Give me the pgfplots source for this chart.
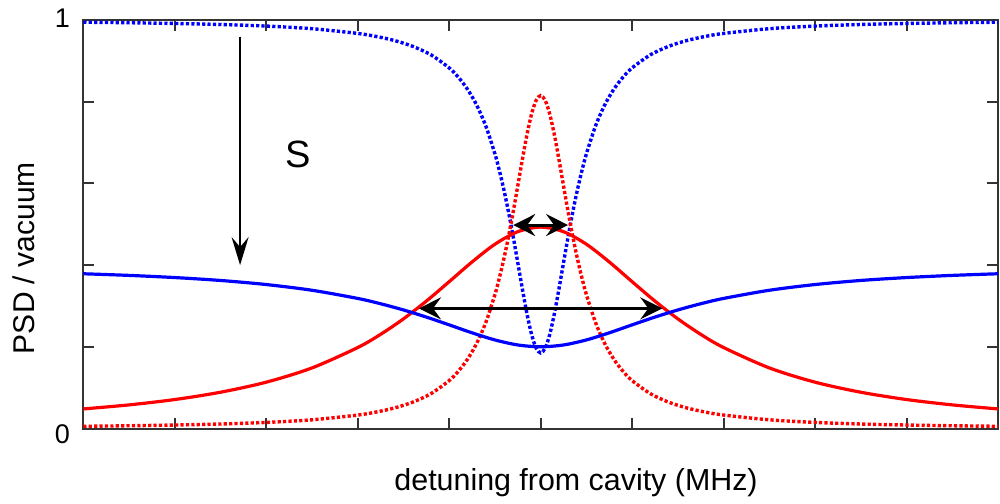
\documentclass[border=0pt]{standalone}
\usepackage{pgfplots}
\usepackage{pgfplotstable}
\pgfplotsset{compat=1.18}
\usepackage{fontspec}
\setmainfont{Liberation Sans}
\usetikzlibrary{arrows.meta}

% narrow cavity response: transmitted (red) and reflected (blue) parts
\pgfplotstableread{
x      red     blue
-5.00  0.0054  0.9946
-4.50  0.0067  0.9933
-4.00  0.0085  0.9915
-3.50  0.0110  0.9890
-3.00  0.0149  0.9851
-2.50  0.0213  0.9787
-2.00  0.0329  0.9671
-1.80  0.0402  0.9598
-1.60  0.0502  0.9498
-1.40  0.0644  0.9356
-1.20  0.0852  0.9148
-1.00  0.1173  0.8827
-0.90  0.1401  0.8599
-0.80  0.1695  0.8305
-0.70  0.2082  0.7918
-0.60  0.2594  0.7406
-0.50  0.3277  0.6723
-0.45  0.3697  0.6303
-0.40  0.4176  0.5824
-0.35  0.4714  0.5286
-0.30  0.5308  0.4692
-0.25  0.5941  0.4059
-0.20  0.6583  0.3417
-0.15  0.7188  0.2812
-0.10  0.7692  0.2308
-0.05  0.8031  0.1969
 0.00  0.8150  0.1850
 0.05  0.8031  0.1969
 0.10  0.7692  0.2308
 0.15  0.7188  0.2812
 0.20  0.6583  0.3417
 0.25  0.5941  0.4059
 0.30  0.5308  0.4692
 0.35  0.4714  0.5286
 0.40  0.4176  0.5824
 0.45  0.3697  0.6303
 0.50  0.3277  0.6723
 0.60  0.2594  0.7406
 0.70  0.2082  0.7918
 0.80  0.1695  0.8305
 0.90  0.1401  0.8599
 1.00  0.1173  0.8827
 1.20  0.0852  0.9148
 1.40  0.0644  0.9356
 1.60  0.0502  0.9498
 1.80  0.0402  0.9598
 2.00  0.0329  0.9671
 2.50  0.0213  0.9787
 3.00  0.0149  0.9851
 3.50  0.0110  0.9890
 4.00  0.0085  0.9915
 4.50  0.0067  0.9933
 5.00  0.0054  0.9946
}\narrowtable

% broadened response with loss
\pgfplotstableread{
x      red     blue
-5.00  0.0479  0.3788
-4.50  0.0578  0.3748
-4.00  0.0709  0.3695
-3.50  0.0888  0.3624
-3.00  0.1134  0.3524
-2.50  0.1483  0.3384
-2.00  0.1982  0.3184
-1.75  0.2305  0.3054
-1.50  0.2684  0.2902
-1.25  0.3118  0.2728
-1.00  0.3594  0.2537
-0.75  0.4077  0.2342
-0.50  0.4511  0.2168
-0.25  0.4818  0.2045
 0.00  0.4930  0.2000
 0.25  0.4818  0.2045
 0.50  0.4511  0.2168
 0.75  0.4077  0.2342
 1.00  0.3594  0.2537
 1.25  0.3118  0.2728
 1.50  0.2684  0.2902
 1.75  0.2305  0.3054
 2.00  0.1982  0.3184
 2.50  0.1483  0.3384
 3.00  0.1134  0.3524
 3.50  0.0888  0.3624
 4.00  0.0709  0.3695
 4.50  0.0578  0.3748
 5.00  0.0479  0.3788
}\widetable

\definecolor{pblue}{RGB}{0,0,255}
\definecolor{pred}{RGB}{255,0,0}
\definecolor{frame}{RGB}{51,51,51}

\begin{document}
\begin{tikzpicture}
\begin{axis}[
  at={(0,0)}, anchor=south west,
  scale only axis,
  width=457.35pt, height=204.25pt,
  xmin=-5, xmax=5, ymin=0, ymax=1,
  xtick={-5,-4,-3,-2,-1,0,1,2,3,4,5},
  xticklabels={},
  ytick={0.2,0.4,0.6,0.8,1},
  yticklabels={,,,,1\hspace{8.5pt}},
  extra y ticks={0},
  extra y tick labels={0},
  extra y tick style={yticklabel style={yshift=-3.75pt}},
  xtick pos=both, ytick pos=both,
  yticklabel pos=left,
  tick align=inside,
  major tick length=5.5pt,
  axis line style={frame, line width=1pt},
  every tick/.style={frame, line width=1pt},
  yticklabel style={anchor=east, inner sep=0pt, xshift=-6.5pt, yshift=1pt,
    font=\fontsize{13.5}{15}\selectfont},
  /pgf/number format/assume math mode=true,
  xlabel={detuning from cavity (MHz)},
  ylabel={PSD / vacuum},
  xlabel style={at={(axis description cs:0.5387,-0.1334)}, anchor=center,
    font=\fontsize{15.2}{17}\selectfont},
  ylabel style={at={(axis description cs:-0.0656,0.417)}, anchor=center,
    font=\fontsize{15}{17}\selectfont},
]
\addplot[pblue, line width=1.7pt, dash pattern=on 1.6pt off 1.1pt, smooth]
  table[x=x, y=blue] {\narrowtable};
\addplot[pred, line width=1.7pt, dash pattern=on 1.6pt off 1.1pt, smooth]
  table[x=x, y=red] {\narrowtable};
\addplot[pred, line width=1.6pt, smooth] table[x=x, y=red] {\widetable};
\addplot[pblue, line width=1.6pt, smooth] table[x=x, y=blue] {\widetable};

% linewidths of the two responses
\draw[black, line width=1.5pt,
  {Stealth[length=11pt, width=11pt, inset=4pt]}-{Stealth[length=11pt, width=11pt, inset=4pt]}]
  (axis cs:-0.30,0.498) -- (axis cs:0.30,0.498);
\draw[black, line width=1.5pt,
  {Stealth[length=11pt, width=11pt, inset=4pt]}-{Stealth[length=11pt, width=11pt, inset=4pt]}]
  (axis cs:-1.33,0.294) -- (axis cs:1.33,0.294);

% drop of the reflected level
\draw[black, line width=1pt, -{Stealth[length=14pt, width=8.5pt, inset=5pt]}]
  (axis cs:-3.286,0.959) -- (axis cs:-3.286,0.400);
\node[font=\fontsize{19}{22}\selectfont] at (axis cs:-2.647,0.670) {S};
\end{axis}
\pgfresetboundingbox
\path (-41.65pt,-37.25pt) rectangle (458.35pt,214.25pt);
\end{tikzpicture}
\end{document}
